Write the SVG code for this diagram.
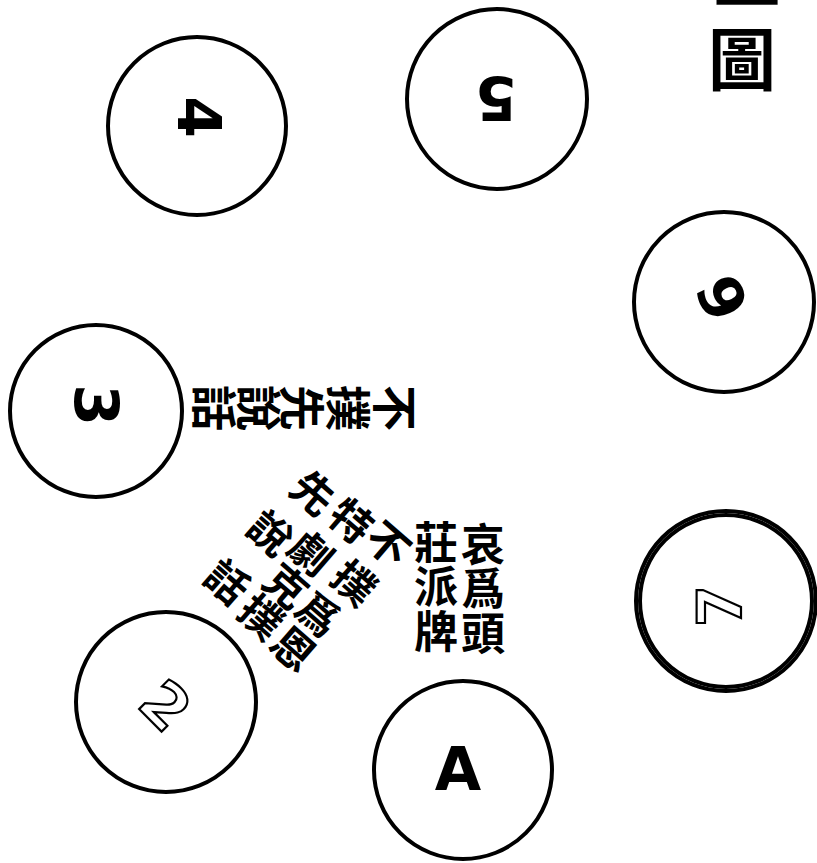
<svg xmlns="http://www.w3.org/2000/svg" width="817" height="863" viewBox="0 0 817 863">
<style>
.c{fill:none;stroke:#000;stroke-width:4}
.n{font-family:"DejaVu Sans","Liberation Sans",sans-serif;font-weight:bold;font-size:60px;text-anchor:middle;fill:#000}
.h{fill:#fff;stroke:#000;stroke-width:2.2}
.t{font-family:"Noto Sans CJK TC","Noto Sans CJK SC",sans-serif;font-weight:700;text-anchor:middle;fill:#000}
.v{font-family:"Noto Sans CJK TC","Noto Sans CJK SC",sans-serif;font-weight:700;fill:#000;writing-mode:vertical-rl;text-anchor:start}
</style>
<rect width="817" height="863" fill="#fff"/>
<g id="title">
<text class="t" x="747" y="26" font-size="66" font-weight="900">一</text>
<text class="t" x="742" y="85" font-size="68" font-weight="900">圖</text>
</g>
<g id="p4">
<circle class="c" cx="197" cy="126" r="89"/>
<text class="n" transform="translate(200,117) rotate(90)" y="22">4</text>
</g>
<g id="p5">
<circle class="c" cx="497" cy="99" r="90"/>
<text class="n" transform="translate(496,99) rotate(180)" y="22">5</text>
</g>
<g id="p6">
<circle class="c" cx="724" cy="302" r="90"/>
<text class="n" transform="translate(722,298) rotate(-115)" y="22">6</text>
</g>
<g id="p3">
<circle class="c" cx="96" cy="411" r="86" stroke-width="3"/>
<text class="n" transform="translate(97,405) rotate(90)" y="22">3</text>
</g>
<g id="p7">
<circle class="c" cx="726" cy="601" r="90" stroke-width="3"/>
<circle class="c" cx="726" cy="601" r="86" stroke-width="1.2"/>
<text class="n h" transform="translate(719,606) rotate(-90)" y="22">7</text>
</g>
<g id="p2">
<circle class="c" cx="166" cy="702" r="90" stroke-width="3.5"/>
<text class="n h" transform="translate(166,705) rotate(45)" y="22">2</text>
</g>
<g id="pA">
<circle class="c" cx="463" cy="770" r="89"/>
<text class="n" transform="translate(458,768)" y="22">A</text>
</g>
<g id="label3" class="t" font-size="46">
<text transform="translate(395,408) rotate(90)" dy="0.37em">不</text>
<text transform="translate(348,408) rotate(90)" dy="0.37em">撲</text>
<text transform="translate(302,408) rotate(90)" dy="0.37em">先</text>
<text transform="translate(259,408) rotate(90)" dy="0.37em">說</text>
<text transform="translate(214,408) rotate(90)" dy="0.37em">話</text>
</g>
<g id="labelA" font-size="44">
<text class="v" x="483" y="522" letter-spacing="0.5">哀爲頭</text>
<text class="v" x="436" y="520" letter-spacing="0.5">莊派牌</text>
</g>
<g id="label2" class="t" font-size="42">
<text transform="translate(388,544) rotate(41)" dy="0.37em">不</text>
<text transform="translate(354,583) rotate(41)" dy="0.37em">撲</text>
<text transform="translate(318,614) rotate(41)" dy="0.37em">爲</text>
<text transform="translate(293,649) rotate(41)" dy="0.37em">恩</text>
<text transform="translate(351,521) rotate(41)" dy="0.37em">特</text>
<text transform="translate(311,553) rotate(41)" dy="0.37em">劇</text>
<text transform="translate(286,586) rotate(41)" dy="0.37em">克</text>
<text transform="translate(261,617) rotate(41)" dy="0.37em">撲</text>
<text transform="translate(313,493) rotate(41)" dy="0.37em">先</text>
<text transform="translate(270,533) rotate(41)" dy="0.37em">說</text>
<text transform="translate(227,582) rotate(41)" dy="0.37em">話</text>
</g>
</svg>
